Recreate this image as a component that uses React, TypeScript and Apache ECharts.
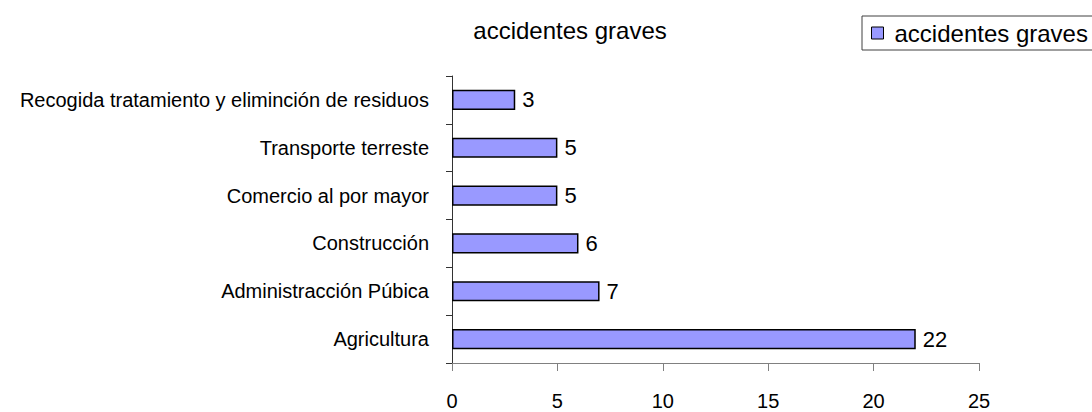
import React, { useEffect, useRef } from "react";
import * as echarts from "echarts";

const categories = [
  "Agricultura",
  "Administracción Púbica",
  "Construcción",
  "Comercio al por mayor",
  "Transporte terreste",
  "Recogida tratamiento y eliminción de residuos",
];
const values = [22, 7, 6, 5, 5, 3];
const seriesName = "accidentes graves";
const titleText = "accidentes graves";

export default function App() {
  const ref = useRef<HTMLDivElement>(null);
  useEffect(() => {
    if (!ref.current) return;
    const chart = echarts.init(ref.current, null, { renderer: "svg" });
    const font = "'Liberation Sans', Arial, sans-serif";
    chart.setOption({
      animation: false,
      textStyle: { fontFamily: font },
      title: {
        text: titleText,
        left: 565,
        top: 13,
        textAlign: "center",
        textStyle: { fontSize: 24, fontWeight: "normal", color: "#000", fontFamily: font },
      },
      legend: {
        data: [seriesName],
        left: 862,
        top: 16,
        padding: [5, 9, 5, 9],
        borderColor: "#404040",
        borderWidth: 1,
        backgroundColor: "#fff",
        icon: "rect",
        itemWidth: 12,
        itemHeight: 12,
        itemStyle: { borderColor: "#000", borderWidth: 1 },
        textStyle: { fontSize: 24, color: "#000", fontFamily: font, padding: [0, 0, 0, 6] },
      },
      grid: { left: 452, right: 113, top: 76, bottom: 49, containLabel: false },
      xAxis: {
        type: "value",
        min: 0,
        max: 25,
        interval: 5,
        axisLine: { show: true, lineStyle: { color: "#808080", width: 1 } },
        axisTick: { show: true, length: 8, lineStyle: { color: "#808080" } },
        splitLine: { show: false },
        axisLabel: { fontSize: 20, color: "#000", margin: 28, fontFamily: font },
      },
      yAxis: {
        type: "category",
        data: categories,
        axisLine: { show: true, lineStyle: { color: "#333", width: 1 } },
        axisTick: { show: true, length: 6, lineStyle: { color: "#333" } },
        axisLabel: { fontSize: 20, color: "#000", margin: 23, fontFamily: font },
      },
      series: [
        {
          name: seriesName,
          type: "bar",
          data: values,
          barCategoryGap: "58%",
          itemStyle: { color: "#9999FF", borderColor: "#000", borderWidth: 1.5 },
          label: {
            show: true,
            position: "right",
            distance: 7,
            fontSize: 22,
            color: "#000",
            fontFamily: font,
          },
        },
      ],
    });
    return () => chart.dispose();
  }, []);
  return <div ref={ref} style={{ width: 1092, height: 412, position: "absolute", left: 0, top: 0 }} />;
}
